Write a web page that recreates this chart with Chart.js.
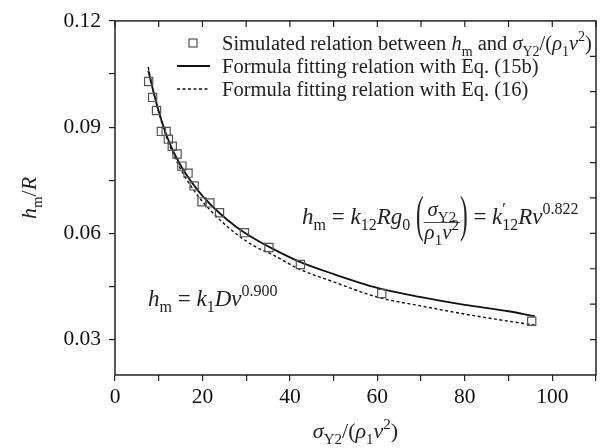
<!DOCTYPE html>
<html>
<head>
  <title>h_m/R vs sigma_Y2/(rho1 v^2)</title>
  <script src="https://cdn.jsdelivr.net/npm/chart.js"></script>
  <style>
    body { margin: 0; background: #fff; }
    #chartContainer { width: 608px; height: 448px; }
</style>
</head>
<body>
    <div id="chartContainer">
        <canvas id="myChart" width="608" height="448"></canvas>
    </div>

  <script>
    // simulated points (squares)
    const simX = [7.7, 8.6, 9.5, 10.6, 11.7, 12.2, 13.1, 14.2, 15.3, 16.7, 18.1, 19.9, 21.7, 23.9, 29.6, 35.2, 42.4, 61.0, 95.3];
    const simY = [0.1029, 0.0984, 0.0947, 0.0888, 0.0888, 0.0866, 0.0846, 0.0824, 0.0790, 0.0770, 0.0734, 0.0689, 0.0686, 0.0658, 0.0602, 0.0560, 0.0512, 0.0430, 0.0352];

    // fitted curves
    const curveX = [7.6, 8, 9, 10, 12, 14, 16, 18, 20, 24, 28, 32, 36, 42, 50, 60, 70, 80, 90, 96];
    const fit15bY = [0.1060, 0.1040, 0.0990, 0.0945, 0.0870, 0.0815, 0.0772, 0.0737, 0.0706, 0.0656, 0.0616, 0.0584, 0.0557, 0.0521, 0.0485, 0.0446, 0.0420, 0.0398, 0.0380, 0.0366];
    const fit16Y = [0.1070, 0.1045, 0.0990, 0.0942, 0.0864, 0.0806, 0.0760, 0.0722, 0.0690, 0.0638, 0.0596, 0.0563, 0.0540, 0.0500, 0.0463, 0.0420, 0.0395, 0.0372, 0.0352, 0.0341];

    const xTicks = [0, 10, 20, 30, 40, 50, 60, 70, 80, 90, 100, 110];
    const xLabels = [0, 20, 40, 60, 80, 100];
    const yTicks = [0.03, 0.045, 0.06, 0.075, 0.09, 0.105, 0.12];
    const yLabels = [0.03, 0.06, 0.09, 0.12];
    const yRightTicks = [0.03, 0.04, 0.05, 0.06, 0.07, 0.08, 0.09, 0.10, 0.11];

    const SERIF = '"Liberation Serif", "DejaVu Serif", serif';
    const INK = '#222';

    // rich text: parts = [text, style]; style: i italic, b subscript, p superscript, n no advance
    function richFont(st, size) {
      const s = (st.includes('b') || st.includes('p')) ? Math.round(size * 0.7) : size;
      return (st.includes('i') ? 'italic ' : '') + s + 'px ' + SERIF;
    }
    function richWidth(ctx, parts, size) {
      let w = 0;
      parts.forEach(([t, st]) => {
        ctx.font = richFont(st, size);
        if (!st.includes('n')) w += ctx.measureText(t).width;
      });
      return w;
    }
    function drawRich(ctx, x, y, parts, size, align) {
      if (align === 'center') x -= richWidth(ctx, parts, size) / 2;
      ctx.textBaseline = 'alphabetic';
      ctx.textAlign = 'left';
      parts.forEach(([t, st]) => {
        ctx.font = richFont(st, size);
        let dy = 0;
        if (st.includes('b')) dy = size * 0.28;
        if (st.includes('p')) dy = -size * 0.42;
        ctx.fillText(t, x, y + dy);
        if (!st.includes('n')) x += ctx.measureText(t).width;
      });
      return x;
    }
    function bigParen(ctx, ch, x, yMid, size) {
      ctx.save();
      ctx.font = size + 'px ' + SERIF;
      ctx.textBaseline = 'middle';
      ctx.textAlign = 'left';
      ctx.translate(x, yMid);
      ctx.scale(1, 2.2);
      ctx.fillText(ch, 0, 0);
      const w = ctx.measureText(ch).width;
      ctx.restore();
      return x + w;
    }

    const legendItems = [
      ['Simulated relation between ', ''], ['h', 'i'], ['m', 'b'], [' and ', ''], ['σ', 'i'], ['Y2', 'b'],
      ['/(', ''], ['ρ', 'i'], ['1', 'b'], ['ν', 'i'], ['2', 'p'], [')', '']
    ];

    const decorations = {
      id: 'decorations',
      afterDraw(chart) {
        const ctx = chart.ctx;
        const a = chart.chartArea;
        const xs = chart.scales.x, ys = chart.scales.y;
        ctx.save();
        ctx.fillStyle = INK;
        ctx.strokeStyle = INK;

        // box
        ctx.lineWidth = 1.5;
        ctx.strokeRect(a.left, a.top, a.right - a.left, a.bottom - a.top);

        // inner ticks on top and right
        ctx.lineWidth = 1.2;
        ctx.beginPath();
        xTicks.forEach(v => {
          const px = xs.getPixelForValue(v);
          ctx.moveTo(px, a.top); ctx.lineTo(px, a.top + 6);
        });
        yRightTicks.forEach(v => {
          const py = ys.getPixelForValue(v);
          ctx.moveTo(a.right, py); ctx.lineTo(a.right - 6, py);
        });
        ctx.stroke();

        // legend
        const lx = 222;
        const rowY = [43, 66, 89];
        ctx.lineWidth = 1.2;
        ctx.strokeStyle = '#555';
        ctx.strokeRect(189, rowY[0] - 4, 8, 8);
        ctx.strokeStyle = '#111';
        ctx.lineWidth = 1.8;
        ctx.beginPath(); ctx.moveTo(177, rowY[1]); ctx.lineTo(210, rowY[1]); ctx.stroke();
        ctx.lineWidth = 1.4;
        ctx.setLineDash([3, 2.5]);
        ctx.beginPath(); ctx.moveTo(177, rowY[2]); ctx.lineTo(210, rowY[2]); ctx.stroke();
        ctx.setLineDash([]);
        drawRich(ctx, lx, rowY[0] + 7, legendItems, 20.5);
        drawRich(ctx, lx, rowY[1] + 7, [['Formula fitting relation with Eq. (15b)', '']], 20.5);
        drawRich(ctx, lx, rowY[2] + 7, [['Formula fitting relation with Eq. (16)', '']], 20.5);

        // equation 1
        const base1 = 224;
        let x = drawRich(ctx, 302, base1, [
          ['h', 'i'], ['m', 'b'], [' = ', ''], ['k', 'i'], ['12', 'b'], ['R', 'i'], ['g', 'i'], ['0', 'b'], [' ', '']
        ], 23);
        x = bigParen(ctx, '(', x, 218, 23);
        const num = [['σ', 'i'], ['Y2', 'b']];
        const den = [['ρ', 'i'], ['1', 'b'], ['ν', 'i'], ['2', 'p']];
        const fw = Math.max(richWidth(ctx, num, 21), richWidth(ctx, den, 21)) + 2;
        drawRich(ctx, x + fw / 2, 216, num, 21, 'center');
        drawRich(ctx, x + fw / 2, 239, den, 21, 'center');
        ctx.fillRect(x, 222, fw, 0.8);
        x = bigParen(ctx, ')', x + fw, 218, 23);
        drawRich(ctx, x, base1, [
          [' = ', ''], ['k', 'i'], ['′', 'pn'], ['12', 'b'], ['R', 'i'], ['ν', 'i'], ['0.822', 'p']
        ], 23);

        // equation 2
        drawRich(ctx, 148, 306, [
          ['h', 'i'], ['m', 'b'], [' = ', ''], ['k', 'i'], ['1', 'b'], ['D', 'i'], ['ν', 'i'], ['0.900', 'p']
        ], 23);

        // axis titles
        drawRich(ctx, (a.left + a.right) / 2, 438, [
          ['σ', 'i'], ['Y2', 'b'], ['/(', ''], ['ρ', 'i'], ['1', 'b'], ['ν', 'i'], ['2', 'p'], [')', '']
        ], 22, 'center');
        ctx.save();
        ctx.translate(36, (a.top + a.bottom) / 2);
        ctx.rotate(-Math.PI / 2);
        drawRich(ctx, 0, 0, [['h', 'i'], ['m', 'b'], ['/', ''], ['R', 'i']], 22, 'center');
        ctx.restore();

        ctx.restore();
      }
    };

    const ctx = document.getElementById('myChart').getContext('2d');
    const myChart = new Chart(ctx, {
      type: 'scatter',
      data: {
        datasets: [{
          label: 'Simulated',
          data: simX.map((v, i) => ({ x: v, y: simY[i] })),
          pointStyle: 'rect',
          pointRadius: 5.8,
          borderColor: '#555',
          backgroundColor: 'rgba(0,0,0,0)',
          borderWidth: 1.2,
          showLine: false
        }, {
          label: 'Eq. (15b)',
          data: curveX.map((v, i) => ({ x: v, y: fit15bY[i] })),
          showLine: true,
          pointRadius: 0,
          borderColor: '#111',
          borderWidth: 1.8,
          cubicInterpolationMode: 'monotone'
        }, {
          label: 'Eq. (16)',
          data: curveX.map((v, i) => ({ x: v, y: fit16Y[i] })),
          showLine: true,
          pointRadius: 0,
          borderColor: '#111',
          borderWidth: 1.4,
          borderDash: [3, 2.5],
          cubicInterpolationMode: 'monotone'
        }]
      },
      options: {
        responsive: false,
        animation: false,
        layout: { padding: { top: 17, right: 12, left: 0, bottom: 0 } },
        plugins: { legend: { display: false }, tooltip: { enabled: false } },
        scales: {
          x: {
            type: 'linear',
            min: 0,
            max: 110,
            afterBuildTicks: s => { s.ticks = xTicks.map(v => ({ value: v })); },
            afterFit: s => { s.height = 73; },
            border: { display: false },
            grid: { drawOnChartArea: false, tickLength: 6, color: INK, lineWidth: 1.2 },
            ticks: {
              color: '#111',
              padding: 3,
              font: { family: SERIF, size: 21.5 },
              maxRotation: 0,
              autoSkip: false,
              callback: v => xLabels.includes(v) ? String(v) : ''
            }
          },
          y: {
            type: 'linear',
            min: 0.02,
            max: 0.12,
            afterBuildTicks: s => { s.ticks = yTicks.map(v => ({ value: v })); },
            afterFit: s => { s.width = 115; },
            border: { display: false },
            grid: { drawOnChartArea: false, tickLength: 6, color: INK, lineWidth: 1.2 },
            ticks: {
              color: '#111',
              padding: 8,
              font: { family: SERIF, size: 21.5 },
              autoSkip: false,
              callback: v => yLabels.some(l => Math.abs(l - v) < 1e-9) ? v.toFixed(2) : ''
            }
          }
        }
      },
      plugins: [decorations]
    });
  </script>
</body>
</html>
